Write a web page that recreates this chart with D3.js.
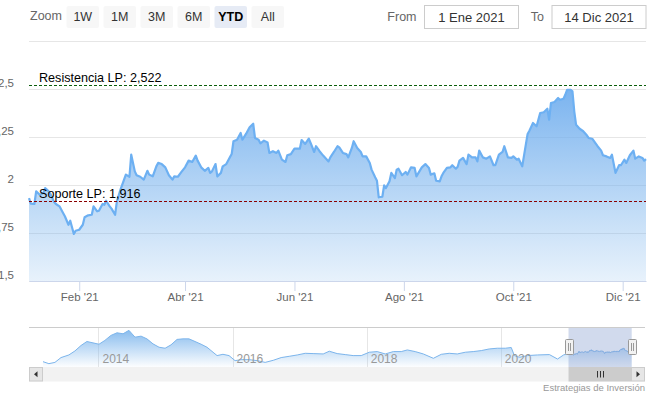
<!DOCTYPE html>
<html>
<head>
<meta charset="utf-8">
<script src="https://cdn.jsdelivr.net/npm/d3@7"></script>
<style>
body { margin: 0; background: #fff; }
text { font-family: "Liberation Sans", Arial, sans-serif; }
</style>
</head>
<body>
<script>
// ---------------------------------------------------------------------------
// Data (daily close, 2021, and coarse history for navigator)
// ---------------------------------------------------------------------------
var priceDates = [
  "2021-01-04","2021-01-05","2021-01-07","2021-01-08","2021-01-10","2021-01-12","2021-01-13","2021-01-15",
  "2021-01-16","2021-01-18","2021-01-19","2021-01-21","2021-01-23","2021-01-24","2021-01-26","2021-01-27",
  "2021-01-29","2021-01-30","2021-02-01","2021-02-03","2021-02-04","2021-02-06","2021-02-08","2021-02-09",
  "2021-02-11","2021-02-12","2021-02-14","2021-02-15","2021-02-16","2021-02-18","2021-02-19","2021-02-21",
  "2021-02-22","2021-02-24","2021-02-26","2021-02-27","2021-03-01","2021-03-02","2021-03-04","2021-03-05",
  "2021-03-07","2021-03-09","2021-03-11","2021-03-12","2021-03-14","2021-03-16","2021-03-17","2021-03-19",
  "2021-03-21","2021-03-23","2021-03-25","2021-03-26","2021-03-28","2021-03-30","2021-04-01","2021-04-03",
  "2021-04-05","2021-04-07","2021-04-08","2021-04-10","2021-04-12","2021-04-14","2021-04-15","2021-04-16",
  "2021-04-18","2021-04-19","2021-04-21","2021-04-22","2021-04-24","2021-04-26","2021-04-27","2021-04-28",
  "2021-04-30","2021-05-02","2021-05-03","2021-05-05","2021-05-07","2021-05-09","2021-05-10","2021-05-12",
  "2021-05-13","2021-05-15","2021-05-17","2021-05-18","2021-05-20","2021-05-22","2021-05-23","2021-05-25",
  "2021-05-27","2021-05-28","2021-05-30","2021-06-01","2021-06-04","2021-06-05","2021-06-07","2021-06-09",
  "2021-06-10","2021-06-12","2021-06-13","2021-06-15","2021-06-17","2021-06-20","2021-06-21","2021-06-23",
  "2021-06-25","2021-06-26","2021-06-28","2021-06-30","2021-07-01","2021-07-03","2021-07-04","2021-07-06",
  "2021-07-08","2021-07-09","2021-07-11","2021-07-13","2021-07-14","2021-07-16","2021-07-17","2021-07-18",
  "2021-07-20","2021-07-21","2021-07-22","2021-07-24","2021-07-25","2021-07-27","2021-07-28","2021-07-29",
  "2021-07-31","2021-08-02","2021-08-03","2021-08-05","2021-08-07","2021-08-08","2021-08-11","2021-08-13",
  "2021-08-15","2021-08-16","2021-08-18","2021-08-19","2021-08-21","2021-08-22","2021-08-23","2021-08-25",
  "2021-08-27","2021-08-28","2021-08-30","2021-08-31","2021-09-01","2021-09-03","2021-09-05","2021-09-06",
  "2021-09-08","2021-09-10","2021-09-11","2021-09-12","2021-09-14","2021-09-16","2021-09-18","2021-09-20",
  "2021-09-21","2021-09-23","2021-09-25","2021-09-26","2021-09-28","2021-09-30","2021-10-01","2021-10-03",
  "2021-10-04","2021-10-06","2021-10-08","2021-10-09","2021-10-10","2021-10-12","2021-10-14","2021-10-16",
  "2021-10-18","2021-10-20","2021-10-21","2021-10-22","2021-10-24","2021-10-26","2021-10-27","2021-10-29",
  "2021-10-30","2021-10-31","2021-11-02","2021-11-03","2021-11-04","2021-11-05","2021-11-07","2021-11-09",
  "2021-11-11","2021-11-12","2021-11-14","2021-11-17","2021-11-19","2021-11-20","2021-11-22","2021-11-24",
  "2021-11-25","2021-11-27","2021-11-29","2021-11-30","2021-12-02","2021-12-03","2021-12-05","2021-12-07",
  "2021-12-08","2021-12-10","2021-12-12","2021-12-13","2021-12-14"
];
var priceValues = [
  1.932,1.903,1.901,1.967,1.949,1.958,1.984,1.967,
  1.953,1.911,1.901,1.889,1.854,1.837,1.793,1.814,
  1.745,1.762,1.767,1.793,1.832,1.842,1.845,1.889,
  1.863,1.866,1.901,1.897,1.918,1.889,1.877,1.845,
  1.915,1.976,2.028,2.054,2.043,2.158,2.071,2.051,
  2.043,2.028,2.074,2.054,2.045,2.097,2.115,2.109,
  2.092,2.051,2.028,2.045,2.043,2.068,2.092,2.127,
  2.120,2.153,2.127,2.092,2.074,2.089,2.063,2.071,
  2.109,2.045,2.063,2.097,2.109,2.144,2.161,2.228,
  2.236,2.271,2.236,2.266,2.301,2.319,2.245,2.236,
  2.217,2.231,2.222,2.167,2.176,2.167,2.179,2.132,
  2.120,2.155,2.161,2.189,2.189,2.234,2.214,2.241,
  2.219,2.172,2.202,2.176,2.153,2.123,2.144,2.172,
  2.202,2.196,2.167,2.161,2.144,2.193,2.228,2.193,
  2.172,2.149,2.149,2.115,2.080,2.040,2.022,1.936,
  1.939,1.998,1.984,2.019,2.063,2.036,2.080,2.085,
  2.051,2.068,2.054,2.092,2.089,2.045,2.092,2.109,
  2.089,2.054,2.061,2.022,2.019,2.045,2.063,2.089,
  2.092,2.103,2.085,2.095,2.127,2.141,2.109,2.158,
  2.144,2.144,2.123,2.179,2.144,2.137,2.149,2.103,
  2.103,2.158,2.172,2.202,2.144,2.141,2.149,2.132,
  2.137,2.097,2.210,2.266,2.283,2.323,2.306,2.375,
  2.379,2.397,2.340,2.427,2.432,2.453,2.444,2.449,
  2.470,2.496,2.496,2.488,2.384,2.314,2.293,2.280,
  2.259,2.245,2.241,2.202,2.179,2.155,2.149,2.141,
  2.158,2.063,2.103,2.103,2.132,2.115,2.155,2.179,
  2.137,2.149,2.141,2.127,2.135
];

// older history, only shown in the navigator
var historyDates = [
  "2013-03-05","2013-04-06","2013-05-09","2013-06-11","2013-07-24","2013-08-26","2013-09-28","2013-10-30",
  "2013-12-02","2014-01-04","2014-02-05","2014-03-10","2014-04-12","2014-05-15","2014-06-16","2014-07-19",
  "2014-08-21","2014-09-22","2014-10-25","2014-11-27","2014-12-30","2015-01-31","2015-03-05","2015-04-06",
  "2015-05-09","2015-06-11","2015-07-14","2015-08-15","2015-09-17","2015-10-09","2015-11-10","2015-12-13",
  "2016-01-15","2016-02-16","2016-04-01","2016-05-15","2016-06-27","2016-08-10","2016-09-22","2016-11-05",
  "2016-12-19","2017-01-31","2017-03-15","2017-05-09","2017-06-11","2017-07-24","2017-09-06","2017-10-19",
  "2017-12-02","2018-01-15","2018-02-27","2018-04-12","2018-05-26","2018-07-08","2018-08-10","2018-09-22",
  "2018-11-05","2018-12-30","2019-02-11","2019-03-26","2019-05-09","2019-06-22","2019-08-04","2019-09-17",
  "2019-10-30","2019-12-13","2020-01-26","2020-02-27","2020-03-15","2020-04-12","2020-05-26","2020-07-19",
  "2020-09-22","2020-11-05","2020-12-08"
];
var historyValues = [
  1.02,0.80,0.94,1.47,1.76,2.20,2.80,3.24,
  3.09,2.94,3.36,3.91,4.20,4.09,4.47,3.72,
  3.83,3.53,2.98,2.61,2.50,2.87,3.47,3.53,
  3.53,3.24,2.94,2.61,2.06,1.69,1.83,1.69,
  1.13,1.24,1.24,1.13,0.94,1.17,1.47,1.61,
  1.76,1.94,1.91,1.87,2.17,1.91,1.80,1.69,
  1.69,2.06,2.13,1.87,2.13,2.13,2.31,2.13,
  1.87,1.39,1.83,1.94,1.87,2.06,2.13,2.24,
  2.42,2.50,2.50,2.58,1.69,1.50,1.69,1.76,
  1.80,1.31,1.76
];

var yTicks = [1.5, 1.75, 2, 2.25, 2.5, 2.75];
var xTickDates = ["2021-02-01","2021-04-01","2021-06-01","2021-08-01","2021-10-01","2021-12-01"];
var monthNames = ["Ene","Feb","Mar","Abr","May","Jun","Jul","Ago","Sep","Oct","Nov","Dic"];

var plotLineNames = ["Resistencia LP", "Soporte LP"];
var plotLineValues = [2.522, 1.916];

var rangeButtons = ["1W", "1M", "3M", "6M", "YTD", "All"];
var selectedButton = "YTD";
var inputLabels = ["From", "To"];
var inputValues = ["1 Ene 2021", "14 Dic 2021"];
var creditText = "Estrategias de Inversión";

// ---------------------------------------------------------------------------
// Layout
// ---------------------------------------------------------------------------
var width = 656, height = 398;
var plot = {left: 29, right: 646, top: 41, bottom: 281};
var nav = {left: 29, right: 645, top: 327, bottom: 367, dataLeft: 43, dataRight: 631.7};

var svg = d3.select("body").append("svg")
    .attr("width", width)
    .attr("height", height);

var parse = d3.timeParse("%Y-%m-%d");
var locale = d3.formatLocale({decimal: ",", thousands: ".", grouping: [3], currency: ["", "€"]});
var fmtTick = locale.format("~g");
var fmtLine = locale.format(".3f");

var data = priceDates.map(function(d, i) { return {date: parse(d), value: priceValues[i]}; });
var pastData = historyDates.map(function(d, i) { return {date: parse(d), value: historyValues[i]}; });
var navData = pastData.concat(data);

var x = d3.scaleTime()
    .domain(d3.extent(data, function(d) { return d.date; }))
    .range([plot.left, plot.right]);
var y = d3.scaleLinear()
    .domain([yTicks[0], yTicks[yTicks.length - 1]])
    .range([plot.bottom, plot.top]);

// gradients
var defs = svg.append("defs");
var grad = defs.append("linearGradient")
    .attr("id", "areaGrad")
    .attr("gradientUnits", "userSpaceOnUse")
    .attr("x1", 0).attr("x2", 0)
    .attr("y1", y(d3.max(priceValues))).attr("y2", plot.bottom);
grad.append("stop").attr("offset", 0).attr("stop-color", "#6fadee").attr("stop-opacity", 0.92);
grad.append("stop").attr("offset", 1).attr("stop-color", "#7cb5ec").attr("stop-opacity", 0.18);

var navGrad = defs.append("linearGradient")
    .attr("id", "navGrad")
    .attr("x1", 0).attr("x2", 0).attr("y1", 0).attr("y2", 1);
navGrad.append("stop").attr("offset", 0).attr("stop-color", "#7cb5ec").attr("stop-opacity", 0.9);
navGrad.append("stop").attr("offset", 1).attr("stop-color", "#7cb5ec").attr("stop-opacity", 0.02);

// ---------------------------------------------------------------------------
// Range selector
// ---------------------------------------------------------------------------
svg.append("text")
    .attr("x", 30).attr("y", 20)
    .style("font-size", "12.5px")
    .style("fill", "#666")
    .text("Zoom");

var btn = svg.append("g").selectAll("g")
    .data(rangeButtons)
    .enter().append("g")
    .attr("transform", function(d, i) { return "translate(" + (66.5 + i * 37) + ",6)"; });
btn.append("rect")
    .attr("width", 32.5).attr("height", 22).attr("rx", 2)
    .style("fill", function(d) { return d == selectedButton ? "#e6ebf5" : "#f7f7f7"; });
btn.append("text")
    .attr("x", 16.25).attr("y", 15)
    .attr("text-anchor", "middle")
    .style("font-size", "12.5px")
    .style("font-weight", function(d) { return d == selectedButton ? "bold" : "normal"; })
    .style("fill", function(d) { return d == selectedButton ? "#000" : "#333"; })
    .text(function(d) { return d; });

var inputX = [424.5, 552];
inputLabels.forEach(function(lab, i) {
    svg.append("text")
        .attr("x", inputX[i] - 8).attr("y", 21)
        .attr("text-anchor", "end")
        .style("font-size", "12.5px")
        .style("fill", "#666")
        .text(lab);
    svg.append("rect")
        .attr("x", inputX[i]).attr("y", 5.5)
        .attr("width", 94).attr("height", 23)
        .style("fill", "#fff")
        .style("stroke", "#ccc");
    svg.append("text")
        .attr("x", inputX[i] + 47).attr("y", 21.5)
        .attr("text-anchor", "middle")
        .style("font-size", "13px")
        .style("fill", "#333")
        .text(inputValues[i]);
});

// ---------------------------------------------------------------------------
// Main chart
// ---------------------------------------------------------------------------
var grid = svg.append("g")
    .attr("transform", "translate(" + plot.left + ",0)")
    .call(d3.axisLeft(y).tickValues(yTicks).tickSize(-(plot.right - plot.left)).tickFormat(""));
grid.select(".domain").remove();
grid.selectAll("line").style("stroke", "#e6e6e6");

// y labels sit partly outside the left edge, as in the original crop
svg.append("g").selectAll("text")
    .data(yTicks.slice(0, -1))
    .enter().append("text")
    .attr("x", 14)
    .attr("y", function(d) { return y(d) - 2; })
    .attr("text-anchor", "end")
    .style("font-size", "11.5px")
    .style("fill", "#666")
    .text(function(d) { return fmtTick(d); });

var area = d3.area()
    .x(function(d) { return x(d.date); })
    .y0(plot.bottom)
    .y1(function(d) { return y(d.value); });
var line = d3.line()
    .x(function(d) { return x(d.date); })
    .y(function(d) { return y(d.value); });

svg.append("path").datum(data)
    .attr("d", area)
    .style("fill", "url(#areaGrad)");
svg.append("path").datum(data)
    .attr("d", line)
    .style("fill", "none")
    .style("stroke", "#6db0f2")
    .style("stroke-width", 2.2)
    .style("stroke-linejoin", "round");

var xAxis = svg.append("g")
    .attr("transform", "translate(0," + plot.bottom + ")")
    .call(d3.axisBottom(x)
        .tickValues(xTickDates.map(parse))
        .tickSize(10).tickSizeOuter(0).tickPadding(2)
        .tickFormat(function(d) { return monthNames[d.getMonth()] + " '" + String(d.getFullYear()).slice(2); }));
xAxis.select(".domain").style("stroke", "#ccd6eb");
xAxis.selectAll("line").style("stroke", "#ccd6eb");
xAxis.selectAll("text")
    .style("font-size", "11.5px")
    .style("fill", "#666")
    .style("font-family", "'Liberation Sans', Arial, sans-serif");

// resistance / support
var plotLineColors = ["#0b5e0b", "#8b0000"];
plotLineValues.forEach(function(v, i) {
    var yy = Math.round(y(v)) + 0.5;
    svg.append("line")
        .attr("x1", plot.left).attr("x2", plot.right)
        .attr("y1", yy).attr("y2", yy)
        .style("stroke", plotLineColors[i])
        .style("stroke-width", 1)
        .style("stroke-dasharray", "3,2");
    svg.append("text")
        .attr("x", plot.left + 10).attr("y", yy - 4)
        .style("font-size", "12.6px")
        .style("fill", "#000")
        .text(plotLineNames[i] + ": " + fmtLine(v));
});

// ---------------------------------------------------------------------------
// Navigator
// ---------------------------------------------------------------------------
var nx = d3.scaleTime()
    .domain(d3.extent(navData, function(d) { return d.date; }))
    .range([nav.dataLeft, nav.dataRight]);
var ext = d3.extent(navData, function(d) { return d.value; });
var pad = (ext[1] - ext[0]) * 0.1;
var ny = d3.scaleLinear().domain([ext[0] - pad, ext[1] + pad]).range([nav.bottom, nav.top]);

var navTicks = nx.ticks(d3.timeYear.every(2));
svg.append("g").selectAll("line")
    .data(navTicks)
    .enter().append("line")
    .attr("x1", function(d) { return Math.round(nx(d)) + 0.5; })
    .attr("x2", function(d) { return Math.round(nx(d)) + 0.5; })
    .attr("y1", nav.top).attr("y2", nav.bottom)
    .style("stroke", "#e6e6e6");

svg.append("path").datum(navData)
    .attr("d", d3.area()
        .x(function(d) { return nx(d.date); })
        .y0(nav.bottom)
        .y1(function(d) { return ny(d.value); }))
    .style("fill", "url(#navGrad)");
svg.append("path").datum(navData)
    .attr("d", d3.line()
        .x(function(d) { return nx(d.date); })
        .y(function(d) { return ny(d.value); }))
    .style("fill", "none")
    .style("stroke", "#7cb5ec")
    .style("stroke-width", 1);

svg.append("g").selectAll("text")
    .data(navTicks)
    .enter().append("text")
    .attr("x", function(d) { return nx(d) + 4; })
    .attr("y", nav.bottom - 4)
    .style("font-size", "12px")
    .style("fill", "#999")
    .text(function(d) { return d.getFullYear(); });

svg.append("line")
    .attr("x1", nav.left).attr("x2", nav.right)
    .attr("y1", nav.top + 0.5).attr("y2", nav.top + 0.5)
    .style("stroke", "#ccc");

// selected range
var selL = nx(data[0].date), selR = nx(data[data.length - 1].date);
svg.append("rect")
    .attr("x", selL).attr("y", nav.top + 1)
    .attr("width", selR - selL).attr("height", nav.bottom - nav.top - 1)
    .style("fill", "rgba(102,133,194,0.3)");

// scrollbar
var sbTop = nav.bottom, sbH = 14.5;
svg.append("rect")
    .attr("x", nav.left).attr("y", sbTop)
    .attr("width", nav.right - nav.left).attr("height", sbH)
    .style("fill", "#f2f2f2");
svg.append("rect")
    .attr("x", selL).attr("y", sbTop)
    .attr("width", nav.right - 14 - selL).attr("height", sbH)
    .style("fill", "#ccc");
[-3, 0, 3].forEach(function(o) {
    var cx = Math.round((selL + nav.right - 14) / 2) + 0.5 + o;
    svg.append("line")
        .attr("x1", cx).attr("x2", cx)
        .attr("y1", sbTop + 4).attr("y2", sbTop + sbH - 4)
        .style("stroke", "#333");
});
[nav.left, nav.right - 14].forEach(function(bx, i) {
    svg.append("rect")
        .attr("x", bx + 0.5).attr("y", sbTop + 0.5)
        .attr("width", 13).attr("height", sbH - 1)
        .style("fill", "#e6e6e6")
        .style("stroke", "#ccc");
    var cx = bx + 7, cy = sbTop + sbH / 2;
    var pts = i == 0
        ? [[cx - 2, cy], [cx + 1.5, cy - 3], [cx + 1.5, cy + 3]]
        : [[cx + 2, cy], [cx - 1.5, cy - 3], [cx - 1.5, cy + 3]];
    svg.append("path")
        .attr("d", "M" + pts.join("L") + "Z")
        .style("fill", "#333");
});

// handles
[selL, selR].forEach(function(hx) {
    var h = svg.append("g").attr("transform", "translate(" + Math.round(hx) + ",339)");
    h.append("rect")
        .attr("x", -3.5).attr("y", 0.5)
        .attr("width", 8).attr("height", 15)
        .attr("rx", 1)
        .style("fill", "#f2f2f2")
        .style("stroke", "#999");
    [-0.5, 1.5].forEach(function(o) {
        h.append("line")
            .attr("x1", o).attr("x2", o)
            .attr("y1", 4).attr("y2", 12)
            .style("stroke", "#999");
    });
});

// credits
svg.append("text")
    .attr("x", 645).attr("y", 391)
    .attr("text-anchor", "end")
    .style("font-size", "9.5px")
    .style("fill", "#999")
    .text(creditText);
</script>
</body>
</html>
